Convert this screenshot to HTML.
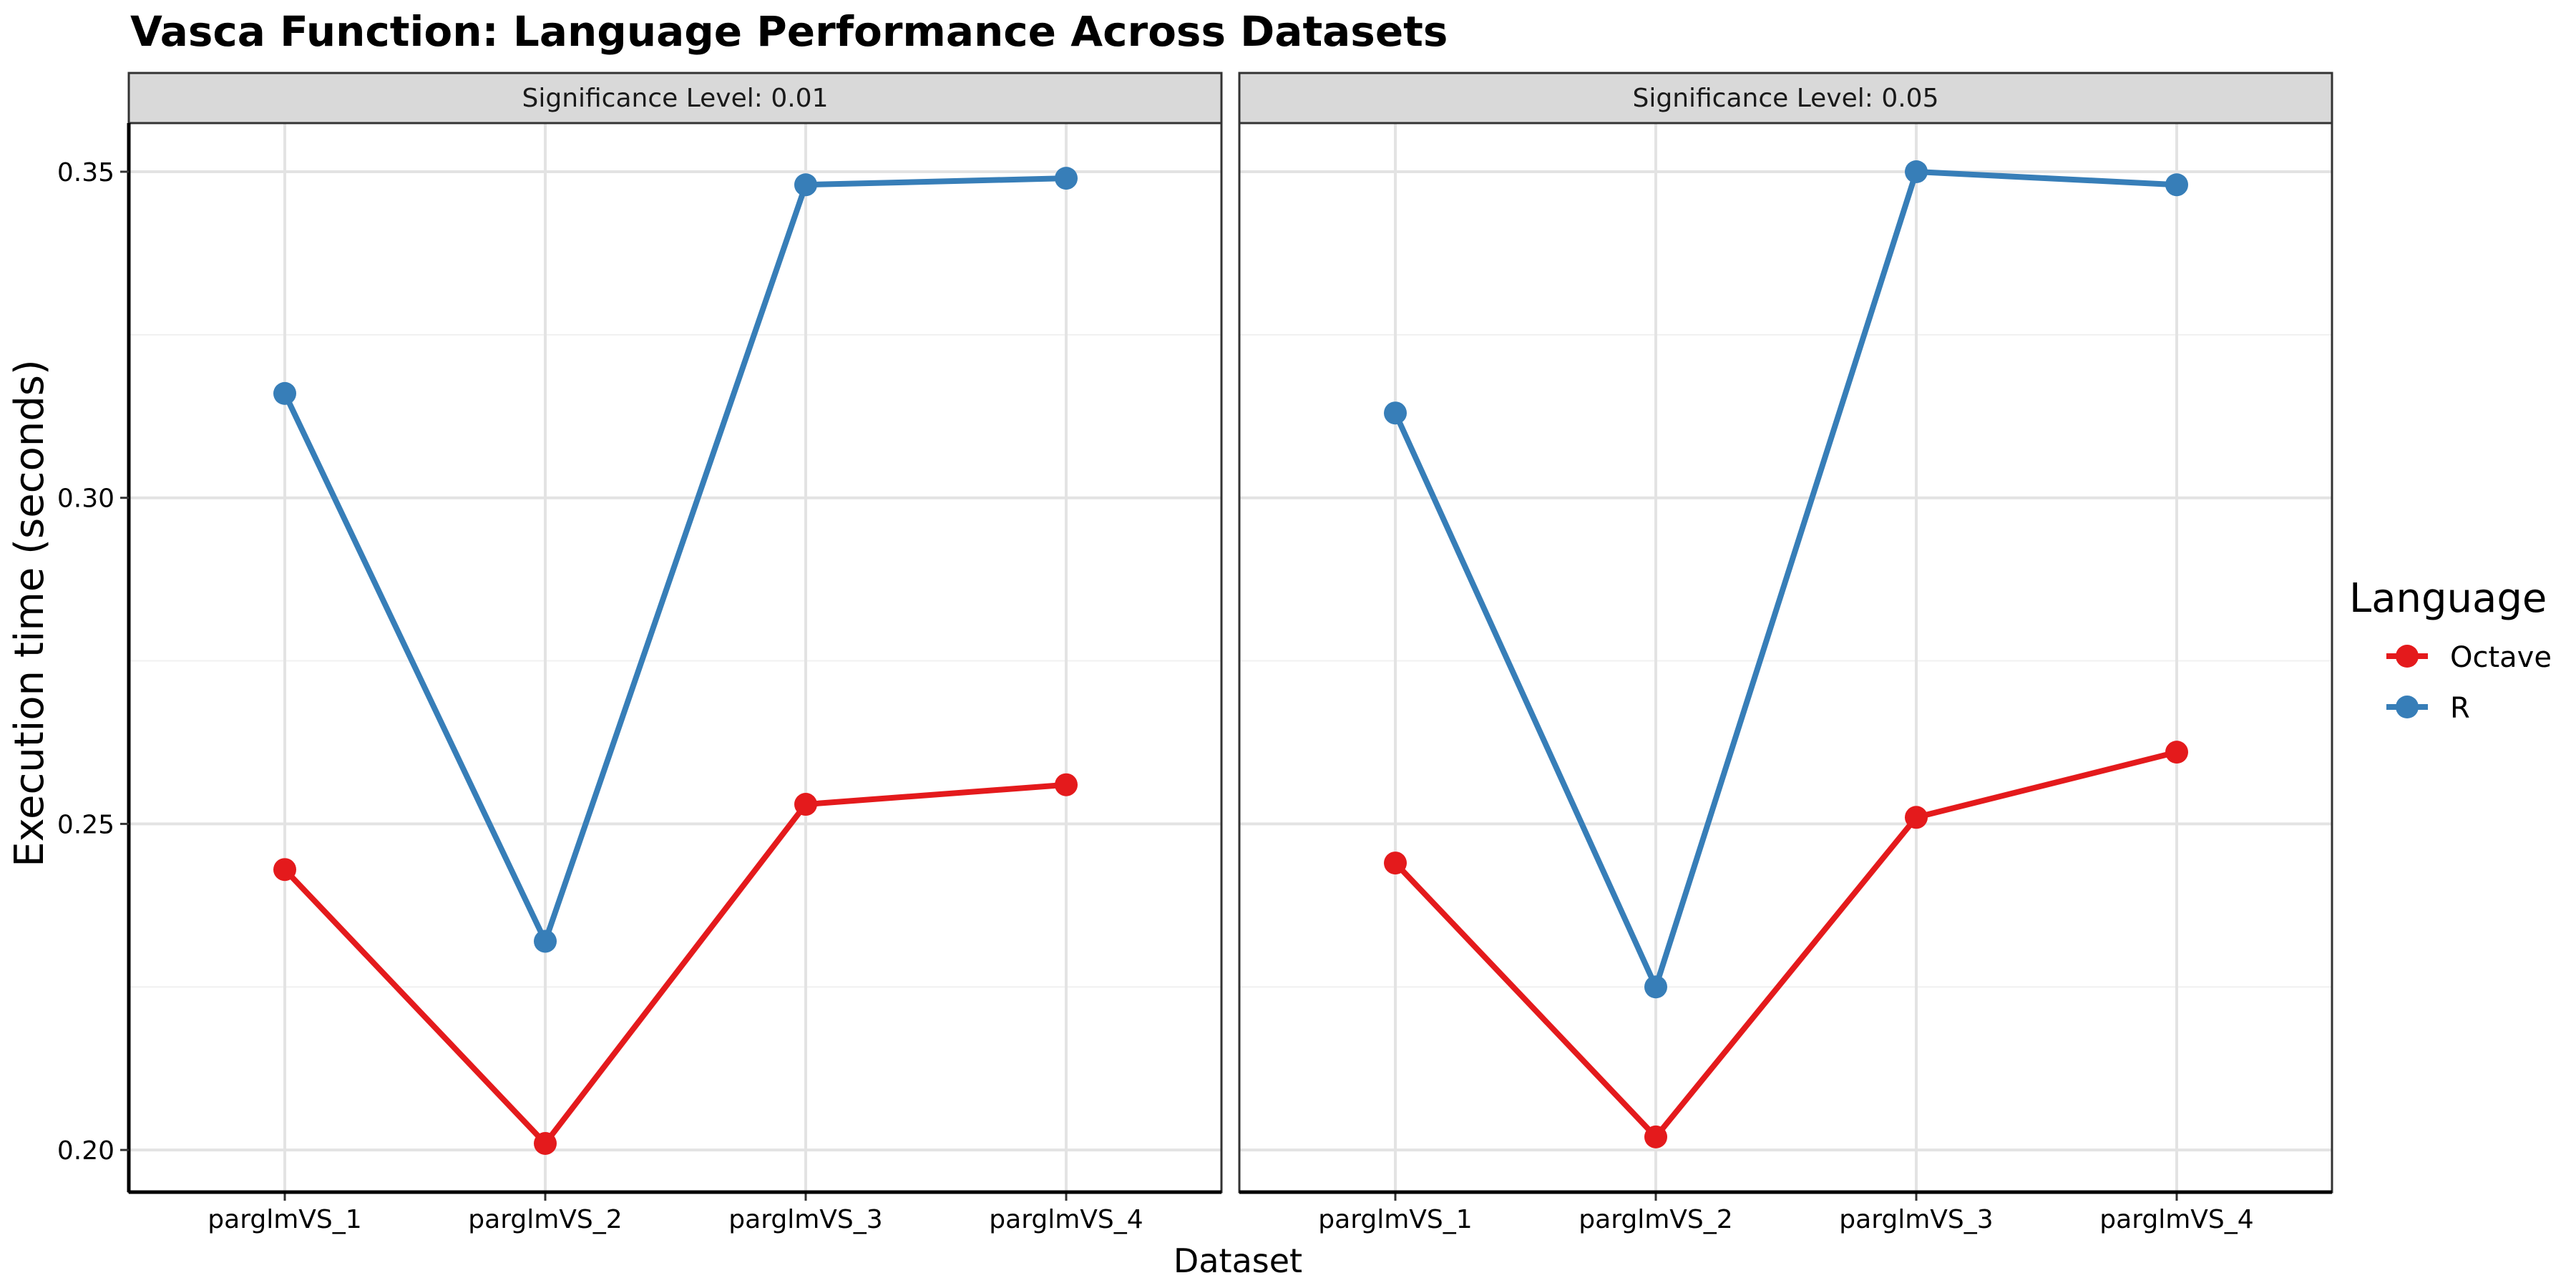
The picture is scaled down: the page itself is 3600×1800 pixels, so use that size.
<!DOCTYPE html>
<html><head><meta charset="utf-8"><style>
html,body{margin:0;padding:0;background:#fff;width:3600px;height:1800px;overflow:hidden}
text{font-family:"DejaVu Sans","Liberation Sans",sans-serif}
</style></head><body>
<svg id="chart" width="3600" height="1800" xmlns="http://www.w3.org/2000/svg">
<text x="182" y="64" font-size="58" font-weight="bold" fill="#000">Vasca Function: Language Performance Across Datasets</text>
<g id="panels"></g>
<text x="1730" y="1778" font-size="46" text-anchor="middle">Dataset</text>
<text transform="translate(60,857) rotate(-90)" font-size="56" text-anchor="middle">Execution time (seconds)</text>
<g>
<text x="3283" y="855" font-size="56">Language</text>
<line x1="3335" y1="917" x2="3393" y2="917" stroke="#E41A1C" stroke-width="8"/>
<circle cx="3364" cy="917" r="16" fill="#E41A1C"/>
<text x="3424" y="932" font-size="40">Octave</text>
<line x1="3335" y1="988" x2="3393" y2="988" stroke="#377EB8" stroke-width="8"/>
<circle cx="3364" cy="988" r="16" fill="#377EB8"/>
<text x="3424" y="1003" font-size="40">R</text>
</g>
</svg>
<script>
const categories = ["parglmVS_1","parglmVS_2","parglmVS_3","parglmVS_4"];
const panelTitles = ["Significance Level: 0.01","Significance Level: 0.05"];
const octave001 = [0.243,0.201,0.253,0.256];
const r001 = [0.316,0.232,0.348,0.349];
const octave005 = [0.244,0.202,0.251,0.261];
const r005 = [0.313,0.225,0.350,0.348];
const yTicks = [0.20,0.25,0.30,0.35];
const yTickLabels = ["0.20","0.25","0.30","0.35"];
const yMinor = [0.225,0.275,0.325];

const NS="http://www.w3.org/2000/svg";
const g=document.getElementById('panels');
const plotTop=172, plotBottom=1666, stripTop=102;
function yScale(v){return 240+(0.35-v)/0.05*455.7;}
function mk(t,a,p){const e=document.createElementNS(NS,t);for(const k in a)e.setAttribute(k,a[k]);(p||g).appendChild(e);return e;}
const panels=[{x0:180,oct:octave001,r:r001},{x0:1732,oct:octave005,r:r005}];
const W=1527;
panels.forEach((p,pi)=>{
  const xs=i=>p.x0+218+i*364;
  const pg=mk('g',{});
  
  
  mk('rect',{x:p.x0,y:plotTop,width:W,height:plotBottom-plotTop,fill:'#fff'},pg);
  yMinor.forEach(v=>{mk('line',{x1:p.x0,x2:p.x0+W,y1:yScale(v),y2:yScale(v),stroke:'#f0f0f0','stroke-width':2},pg);});
  yTicks.forEach(v=>{mk('line',{x1:p.x0,x2:p.x0+W,y1:yScale(v),y2:yScale(v),stroke:'#e3e3e3','stroke-width':4},pg);});
  categories.forEach((c,i)=>{
    mk('line',{x1:xs(i),x2:xs(i),y1:plotTop,y2:plotBottom,stroke:'#e3e3e3','stroke-width':4},pg);
    mk('line',{x1:xs(i),x2:xs(i),y1:plotBottom,y2:plotBottom+12,stroke:'#333','stroke-width':3},pg);
    const t=mk('text',{x:xs(i),y:plotBottom+50,'font-size':36,'text-anchor':'middle',fill:'#000'},pg);
    t.textContent=c;
    
    
  });
  [[p.r,'#377EB8','r'],[p.oct,'#E41A1C','octave']].forEach(([vals,col,nm])=>{
    const pts=vals.map((v,i)=>xs(i)+','+yScale(v)).join(' ');
    const l=mk('polyline',{points:pts,fill:'none',stroke:col,'stroke-width':8,'stroke-linejoin':'round'},pg);
    
    
    vals.forEach((v,i)=>{
      const c=mk('circle',{cx:xs(i),cy:yScale(v),r:16,fill:col},pg);
      
      
    });
  });
  mk('rect',{x:p.x0,y:plotTop,width:W,height:plotBottom-plotTop,fill:'none',stroke:'#333','stroke-width':3},pg);
  mk('line',{x1:p.x0,x2:p.x0+W,y1:plotBottom,y2:plotBottom,stroke:'#000','stroke-width':5},pg);
  mk('rect',{x:p.x0,y:stripTop,width:W,height:plotTop-stripTop,fill:'#d9d9d9',stroke:'#333','stroke-width':3},pg);
  const st=mk('text',{x:p.x0+W/2,y:149,'font-size':36,'text-anchor':'middle',fill:'#1a1a1a'},pg);
  st.textContent=panelTitles[pi];
  
  
});
mk('line',{x1:180,x2:180,y1:plotTop,y2:plotBottom,stroke:'#000','stroke-width':5});
yTicks.forEach((v,i)=>{
  mk('line',{x1:168,x2:180,y1:yScale(v),y2:yScale(v),stroke:'#333','stroke-width':3});
  const t=mk('text',{x:160,y:yScale(v)+13,'font-size':36,'text-anchor':'end',fill:'#000'});
  t.textContent=yTickLabels[i];
  
  
});
</script>
</body></html>
